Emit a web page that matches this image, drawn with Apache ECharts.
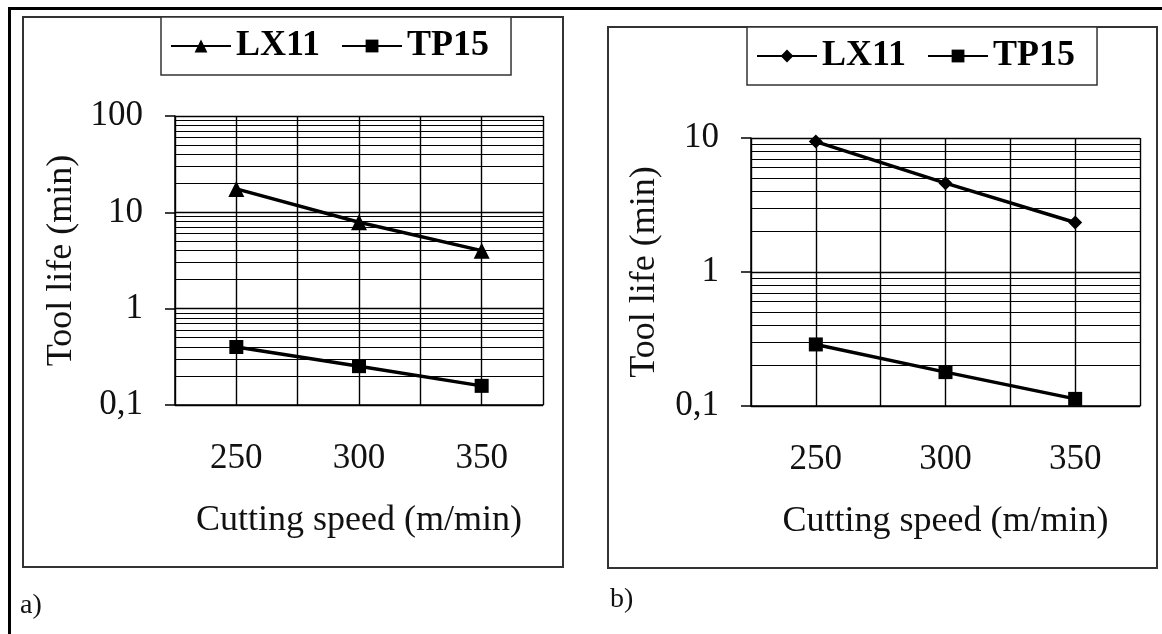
<!DOCTYPE html>
<html>
<head>
<meta charset="utf-8">
<script src="https://cdn.jsdelivr.net/npm/echarts@6/dist/echarts.min.js"></script>
<style>
  html, body { margin: 0; padding: 0; background: #fff; }
  #chart { width: 1162px; height: 634px; }
</style>
</head>
<body>
<div id="chart"></div>
<script>
// data
const speeds = ['250', '300', '350'];
const lifeA_LX11 = [17.5, 7.9, 4.0];
const lifeA_TP15 = [0.40, 0.253, 0.158];
const lifeB_LX11 = [9.4, 4.6, 2.34];
const lifeB_TP15 = [0.288, 0.179, 0.113];
const rangeA = [0.1, 100];
const rangeB = [0.1, 10];

const FONT = "'Liberation Serif', 'Times New Roman', serif";
const INK = '#000';

const chart = echarts.init(document.getElementById('chart'));

// comma as decimal separator
function fmtLog(v) {
  return String(v).replace('.', ',');
}

function xAxes(gridIndex) {
  return [
    {
      type: 'category', gridIndex: gridIndex, data: speeds, boundaryGap: true,
      axisLine: { lineStyle: { color: INK, width: 1.5 } },
      axisTick: { length: 12, lineStyle: { color: INK, width: 1.5 } },
      axisLabel: { fontFamily: FONT, fontSize: 35, color: '#111', margin: 36 },
      splitLine: { show: false },
      name: 'Cutting speed (m/min)', nameLocation: 'middle', nameGap: 98,
      nameTextStyle: { fontFamily: FONT, fontSize: 36, color: '#111' }
    },
    // half-category grid (boundaries + centres)
    {
      type: 'value', gridIndex: gridIndex, min: 0, max: 6, interval: 1,
      axisLine: { show: false }, axisTick: { show: false }, axisLabel: { show: false },
      splitLine: { show: true, lineStyle: { color: INK, width: 1.4 } }
    }
  ];
}

function yAxis(gridIndex, range, gap) {
  return {
    type: 'log', logBase: 10, gridIndex: gridIndex, min: range[0], max: range[1],
    axisLine: { show: true, lineStyle: { color: INK, width: 1.5 } },
    axisTick: { show: true, length: 10, lineStyle: { color: INK, width: 1.5 } },
    minorTick: { show: false, splitNumber: 9 },
    minorSplitLine: { show: true, lineStyle: { color: INK, width: 1.2 } },
    splitLine: { show: true, lineStyle: { color: INK, width: 1.4 } },
    axisLabel: { fontFamily: FONT, fontSize: 35, color: '#111', margin: 32, formatter: fmtLog },
    name: 'Tool life (min)', nameLocation: 'middle', nameGap: gap,
    nameTextStyle: { fontFamily: FONT, fontSize: 36, color: '#111' }
  };
}

function series(name, data, symbol, size, idx) {
  return {
    name: name, type: 'line', data: data, xAxisIndex: idx * 2, yAxisIndex: idx,
    symbol: symbol, symbolSize: size, color: INK,
    lineStyle: { color: INK, width: 3.5 }, itemStyle: { color: INK },
    emphasis: { disabled: true }, animation: false, z: 5
  };
}

function legend(left, top, names) {
  return {
    left: left, top: top, data: names,
    orient: 'horizontal', itemWidth: 60, itemHeight: 16, itemGap: 21,
    padding: [11, 22, 11, 9],
    borderColor: '#333', borderWidth: 1.5, backgroundColor: '#fff',
    formatter: n => n.split(' ')[0],
    textStyle: { fontFamily: FONT, fontSize: 36, fontWeight: 'bold', color: INK }
  };
}

const option = {
  backgroundColor: '#fff',
  animation: false,
  grid: [
    { left: 175, top: 116, width: 368, height: 289 },
    { left: 751, top: 138, width: 389, height: 268 }
  ],
  xAxis: xAxes(0).concat(xAxes(1)),
  yAxis: [yAxis(0, rangeA, 95), yAxis(1, rangeB, 88)],
  legend: [
    legend(161, 17, ['LX11 a', 'TP15 a']),
    legend(747, 27, ['LX11 b', 'TP15 b'])
  ],
  series: [
    series('LX11 a', lifeA_LX11, 'triangle', 16, 0),
    series('TP15 a', lifeA_TP15, 'rect', 14, 0),
    series('LX11 b', lifeB_LX11, 'diamond', 14, 1),
    series('TP15 b', lifeB_TP15, 'rect', 14, 1)
  ],
  graphic: [
    { type: 'line', shape: { x1: 8, y1: 8.5, x2: 1162, y2: 8.5 }, style: { stroke: INK, lineWidth: 3 } },
    { type: 'line', shape: { x1: 9.5, y1: 8, x2: 9.5, y2: 634 }, style: { stroke: INK, lineWidth: 3 } },
    { type: 'rect', shape: { x: 23, y: 17, width: 540, height: 550 }, style: { fill: null, stroke: '#333', lineWidth: 2 }, z: -1 },
    { type: 'rect', shape: { x: 608, y: 27, width: 549, height: 541 }, style: { fill: null, stroke: '#333', lineWidth: 2 }, z: -1 },
    { type: 'text', left: 20, top: 592, style: { text: 'a)', font: "28px 'Liberation Serif', serif", fill: '#111' } },
    { type: 'text', left: 610, top: 586, style: { text: 'b)', font: "28px 'Liberation Serif', serif", fill: '#111' } }
  ]
};

chart.setOption(option);
</script>
</body>
</html>
